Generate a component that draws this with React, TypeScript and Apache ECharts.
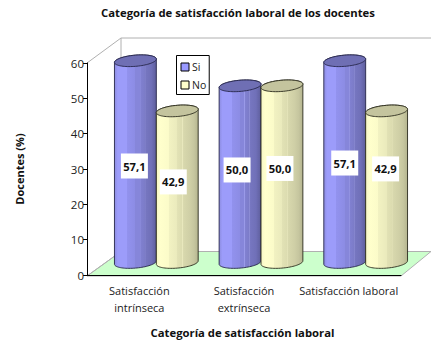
import React, { useEffect, useRef } from "react";
import * as echarts from "echarts";

const FONT = "Open Sans";
const titleText = "Categoría de satisfacción laboral de los docentes";
const xAxisTitle = "Categoría de satisfacción laboral";
const yAxisTitle = "Docentes (%)";
const categories = ["Satisfacción\nintrínseca", "Satisfacción\nextrínseca", "Satisfacción laboral"];
const siValues = [57.1, 50.0, 57.1];
const noValues = [42.9, 50.0, 42.9];
const yTicks = { min: 0, max: 60, interval: 10 };

// pixel nudges of the hand-placed value labels, relative to each cylinder's middle
const siLabelNudge = [[-1, 4.4], [-3, -4.2], [0, 1.4]];
const noLabelNudge = [[-4, -4.8], [-2, -5.7], [-1, -17.8]];

const DEPTH_X = 17;
const DEPTH_Y = -12.5;

type Palette = { stops: [number, string][]; top: string; stroke: string };

const bluePalette: Palette = {
  stops: [
    [0, "#8c8ce0"], [0.08, "#9c9cfa"], [0.3, "#9c9cfa"], [0.3, "#9292ee"], [0.5, "#8c8ce4"], [0.5, "#8686da"],
    [0.6, "#8686da"], [0.6, "#a0a0ee"], [0.63, "#8080d0"], [0.72, "#7c7cc8"], [0.72, "#9090d8"], [0.75, "#7676c0"],
    [0.88, "#7070b8"], [1, "#5e5e9c"],
  ],
  top: "#6f6fb4",
  stroke: "#26264a",
};
const yellowPalette: Palette = {
  stops: [
    [0, "#f6f6c6"], [0.1, "#ffffcc"], [0.3, "#fbfbc9"], [0.3, "#f2f2c2"], [0.5, "#eaeabc"], [0.5, "#e2e2b5"],
    [0.62, "#dcdcb0"], [0.62, "#ecebc0"], [0.65, "#d8d8ad"], [0.8, "#cfcfa6"], [0.9, "#c6c69f"], [1, "#b4b48f"],
  ],
  top: "#c4c49e",
  stroke: "#2a2a1c",
};

function cylinder(side: number, palette: Palette, nudges: number[][]) {
  return (params: any, api: any) => {
    const idx = api.value(0);
    const value = api.value(1);
    const band = api.size([1, 0])[0];
    const r = band * 0.2;
    const ry = 5.6;
    const tilt = 1.7;
    const [x0, yTop0] = api.coord([idx, value]);
    const yBase0 = api.coord([idx, 0])[1];
    const cx = x0 + DEPTH_X + side * r;
    const top = yTop0 + DEPTH_Y;
    const base = yBase0 + DEPTH_Y;
    const pt = (t: number, cy: number) => [cx + r * Math.cos(t), cy + ry * Math.sin(t) - tilt * Math.cos(t)];
    const N = 40;
    const body: number[][] = [];
    for (let i = 0; i <= N; i++) body.push(pt((Math.PI * i) / N, base));
    for (let i = 0; i <= N; i++) body.push(pt(Math.PI + (Math.PI * i) / N, top));
    const lid: number[][] = [];
    for (let i = 0; i < N * 2; i++) lid.push(pt((Math.PI * i) / N, top));
    const [nx, ny] = nudges[idx];
    const lx = cx + nx;
    const ly = (top + base) / 2 + ny;
    return {
      type: "group",
      children: [
        {
          type: "polygon",
          shape: { points: body },
          style: {
            fill: new echarts.graphic.LinearGradient(0, 0, 1, 0, palette.stops.map(([offset, color]) => ({ offset, color }))),
            stroke: palette.stroke,
            lineWidth: 0.9,
          },
        },
        {
          type: "polygon",
          shape: { points: lid },
          style: { fill: palette.top, stroke: palette.stroke, lineWidth: 0.9 },
        },
        {
          type: "rect",
          shape: { x: lx - 13.5, y: ly - 12.5, width: 27, height: 25 },
          style: { fill: "#ffffff" },
        },
        {
          type: "text",
          style: {
            text: value.toFixed(1).replace(".", ","),
            x: lx,
            y: ly,
            align: "center",
            verticalAlign: "middle",
            fill: "#111111",
            font: `bold 11.2px ${FONT}`,
          },
        },
      ],
    };
  };
}

export default function App() {
  const ref = useRef<HTMLDivElement>(null);
  useEffect(() => {
    document.body.style.margin = "0";
    const chart = echarts.init(ref.current!, null, { renderer: "svg" });
    const wall = "#b0b0b0";
    chart.setOption({
      animation: false,
      backgroundColor: "#ffffff",
      textStyle: { fontFamily: FONT },
      title: {
        text: titleText,
        left: 233,
        top: 2,
        textAlign: "center",
        textStyle: { fontFamily: FONT, fontSize: 11.3, fontWeight: "bold", color: "#111111" },
      },
      grid: { left: 87, top: 63, width: 314, height: 213 },
      legend: {
        data: ["Si", "No"],
        orient: "vertical",
        left: 176.5,
        top: 55.5,
        padding: [6, 3, 4, 4],
        itemWidth: 8,
        itemHeight: 8,
        itemGap: 7,
        backgroundColor: "#ffffff",
        borderColor: "#000000",
        borderWidth: 1,
        borderRadius: 0,
        icon: "rect",
        itemStyle: { borderColor: "#000000", borderWidth: 1 },
        textStyle: { fontFamily: FONT, fontSize: 10.5, color: "#222222", padding: [0, 0, 0, -2] },
      },
      xAxis: {
        type: "category",
        data: categories,
        boundaryGap: true,
        name: xAxisTitle,
        nameLocation: "middle",
        nameGap: 52,
        nameTextStyle: { fontFamily: FONT, fontSize: 11.3, fontWeight: "bold", color: "#111111", padding: [0, 3, 0, 0] },
        axisLine: { lineStyle: { color: "#000000", width: 1 } },
        axisTick: { length: 4, lineStyle: { color: "#000000" } },
        axisLabel: { fontFamily: FONT, fontSize: 11, color: "#222222", lineHeight: 17, margin: 7, interval: 0 },
        splitLine: { show: false },
      },
      yAxis: {
        type: "value",
        ...yTicks,
        name: yAxisTitle,
        nameLocation: "middle",
        nameGap: 62,
        nameRotate: 90,
        nameTextStyle: { fontFamily: FONT, fontSize: 11, fontWeight: "bold", color: "#111111" },
        axisLine: { show: true, lineStyle: { color: "#000000", width: 1 } },
        axisTick: { show: true, length: 4, lineStyle: { color: "#000000" } },
        axisLabel: { fontFamily: FONT, fontSize: 11.5, color: "#222222", margin: 3 },
        splitLine: { show: false },
      },
      graphic: [
        {
          type: "polygon",
          z: -1,
          shape: { points: [[87, 276], [121, 251.5], [431, 251.5], [401, 276]] },
          style: { fill: "#ccffcc", stroke: wall, lineWidth: 1 },
        },
        { type: "polyline", z: -1, shape: { points: [[87, 63], [121, 38], [431, 38]] }, style: { fill: "none", stroke: wall, lineWidth: 1 } },
        { type: "line", z: -1, shape: { x1: 121, y1: 38, x2: 121, y2: 251.5 }, style: { stroke: wall, lineWidth: 1 } },
        { type: "line", z: -1, shape: { x1: 87, y1: 276, x2: 121, y2: 251.5 }, style: { stroke: wall, lineWidth: 1 } },
      ],
      series: [
        {
          name: "Si",
          type: "custom",
          itemStyle: { color: "#9999ff" },
          encode: { x: 0, y: 1 },
          clip: false,
          z: 3,
          data: siValues.map((v, i) => [i, v]),
          renderItem: cylinder(-1, bluePalette, siLabelNudge),
        },
        {
          name: "No",
          type: "custom",
          itemStyle: { color: "#ffffcc" },
          encode: { x: 0, y: 1 },
          clip: false,
          z: 4,
          data: noValues.map((v, i) => [i, v]),
          renderItem: cylinder(1, yellowPalette, noLabelNudge),
        },
      ],
    });
    return () => chart.dispose();
  }, []);
  return <div ref={ref} style={{ width: 431, height: 343 }} />;
}
